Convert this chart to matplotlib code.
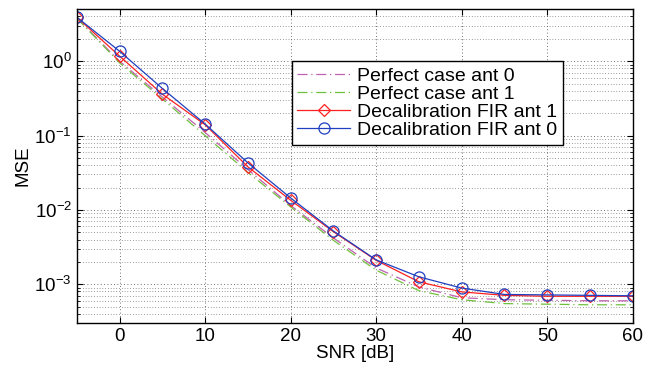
import numpy as np
import matplotlib
matplotlib.use('Agg')
from matplotlib import pyplot as plt
from matplotlib.ticker import LogLocator, NullFormatter

plt.rcParams['font.family'] = ['Liberation Sans', 'DejaVu Sans']
plt.rcParams['mathtext.fontset'] = 'custom'
plt.rcParams['mathtext.rm'] = 'Liberation Sans'

snr = [-5, 0, 5, 10, 15, 20, 25, 30, 35, 40, 45, 50, 55, 60]
perfect_ant0 = [3.8, 1.0, 0.33, 0.11, 0.035, 0.0115, 0.0042, 0.00166, 0.00092, 0.00066, 0.00062, 0.00061, 0.0006, 0.0006]
perfect_ant1 = [3.8, 0.95, 0.31, 0.10, 0.032, 0.011, 0.0039, 0.00155, 0.00082, 0.00062, 0.00055, 0.00054, 0.00053, 0.00053]
fir_ant1 = [3.9, 1.17, 0.36, 0.14, 0.038, 0.0135, 0.0051, 0.0021, 0.00108, 0.00079, 0.00071, 0.00069, 0.00069, 0.00069]
fir_ant0 = [3.9, 1.36, 0.43, 0.143, 0.043, 0.0145, 0.0052, 0.00213, 0.00126, 0.00089, 0.00073, 0.00072, 0.00071, 0.0007]

labels = ['Perfect case ant 0', 'Perfect case ant 1', 'Decalibration FIR ant 1', 'Decalibration FIR ant 0']

fig = plt.figure(figsize=(6.45, 3.66), dpi=100)
ax = fig.add_axes([0.119, 0.117, 0.862, 0.858])

ax.semilogy(snr, perfect_ant0, color='#c060b0', linestyle=(0, (8, 3, 1, 3)), linewidth=0.9, label=labels[0])
ax.semilogy(snr, perfect_ant1, color='#70c040', linestyle=(0, (8, 3, 1, 3)), linewidth=0.9, label=labels[1])
ax.semilogy(snr, fir_ant1, color='#ff2020', marker='D', markersize=6, markerfacecolor='none',
            markeredgewidth=0.9, linewidth=0.9, label=labels[2])
ax.semilogy(snr, fir_ant0, color='#2040c0', marker='o', markersize=8, markerfacecolor='none',
            markeredgewidth=0.9, linewidth=0.9, label=labels[3])

ax.set_xlim(-5, 60)
ax.set_ylim(3e-4, 5)
ax.set_xticks([0, 10, 20, 30, 40, 50, 60])
ax.yaxis.set_major_locator(LogLocator(base=10, numticks=10))
ax.yaxis.set_minor_locator(LogLocator(base=10, subs=np.arange(2, 10), numticks=20))
ax.yaxis.set_minor_formatter(NullFormatter())

# matlab style dotted grid
ax.grid(True, which='major', color='#404040', linestyle=(0, (1, 3)), linewidth=0.6)
ax.grid(True, which='minor', axis='y', color='#404040', linestyle=(0, (1, 3)), linewidth=0.5)
ax.tick_params(which='both', direction='in', top=True, right=True, labelsize=13.5)
ax.tick_params(which='major', length=4)
ax.tick_params(which='minor', length=2)
for s in ax.spines.values():
    s.set_linewidth(1.0)

ax.set_xlabel('SNR [dB]', fontsize=13.5, labelpad=0)
ax.set_ylabel('MSE', fontsize=13.5, labelpad=2)

leg = ax.legend(loc='upper right', bbox_to_anchor=(0.874, 0.834), fontsize=14,
                fancybox=False, framealpha=1, edgecolor='black', handlelength=2.7,
                borderpad=0.3, labelspacing=0.02, handletextpad=0.35, borderaxespad=0)
leg.get_frame().set_linewidth(1.0)

fig.savefig('out.png', dpi=100)
